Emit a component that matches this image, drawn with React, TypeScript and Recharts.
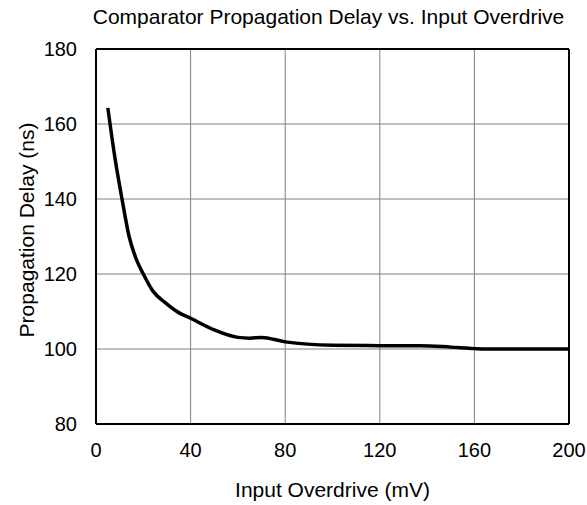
import { LineChart, Line, XAxis, YAxis, CartesianGrid, ReferenceLine } from "recharts";

// Input overdrive (mV) and propagation delay (ns)
const overdrive = [5, 8, 11, 14, 17, 20, 24, 29, 35, 40, 50, 60, 65, 70, 80, 100, 120, 137, 150, 160, 165, 200];
const delay = [164.3, 151, 140, 130, 124, 120, 115.5, 112.5, 109.7, 108.2, 105.1, 103.1, 102.9, 103.1, 101.9, 101, 100.9, 100.9, 100.5, 100.1, 100, 100];

const xTicks = [0, 40, 80, 120, 160, 200];
const yTicks = [80, 100, 120, 140, 160, 180];

const FONT = '"Liberation Sans", Arial, sans-serif';

export default function App() {
  const data = overdrive.map((x, i) => ({ x, y: delay[i] }));

  return (
    <div style={{ position: "absolute", left: 0, top: 0, fontFamily: FONT }}>
      <LineChart width={587} height={505} data={data} margin={{ top: 49, right: 18, bottom: 40, left: 0 }}>
        <CartesianGrid stroke="#808080" strokeWidth={1} />
        <XAxis
          dataKey="x"
          type="number"
          domain={[0, 200]}
          ticks={xTicks}
          height={41}
          stroke="#000"
          strokeWidth={2}
          tickLine={false}
          tickSize={0}
          tickMargin={19}
          tick={{ fontSize: 20, fill: "#000", fontFamily: FONT }}
        />
        <YAxis
          type="number"
          domain={[80, 180]}
          ticks={yTicks}
          width={96}
          stroke="#000"
          strokeWidth={2}
          tickLine={false}
          tickSize={0}
          tickMargin={19}
          tick={{ fontSize: 20, fill: "#000", fontFamily: FONT }}
        />
        <ReferenceLine y={180} stroke="#000" strokeWidth={2} />
        <ReferenceLine x={200} stroke="#000" strokeWidth={2} />
        <Line
          type="monotone"
          dataKey="y"
          stroke="#000"
          strokeWidth={3.5}
          dot={false}
          isAnimationActive={false}
        />
        <text x={328.5} y={24} textAnchor="middle" fontSize={21} fontFamily={FONT} fill="#000">
          Comparator Propagation Delay vs. Input Overdrive
        </text>
        <text x={332.5} y={497} textAnchor="middle" fontSize={21} fontFamily={FONT} fill="#000">
          Input Overdrive (mV)
        </text>
        <text
          x={34}
          y={230}
          textAnchor="middle"
          fontSize={21}
          fontFamily={FONT}
          fill="#000"
          transform="rotate(-90 34 230)"
        >
          Propagation Delay (ns)
        </text>
      </LineChart>
    </div>
  );
}
